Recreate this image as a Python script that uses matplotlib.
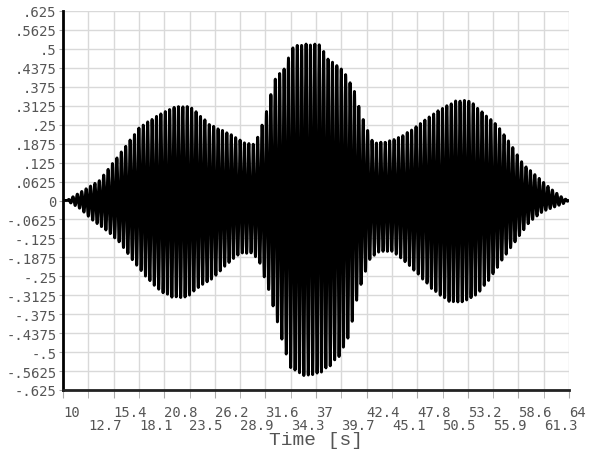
import numpy as np
import matplotlib
matplotlib.use('Agg')
import matplotlib.pyplot as plt

# Envelope of the oscillation (time [s], amplitude)
upper_t = [10.0, 10.4, 11.8, 13.9, 16.1, 18.2, 20.4, 22.0, 23.6, 25.7, 27.8,
           29.4, 30.5, 31.6, 32.6, 33.7, 34.5, 35.5, 37.4, 38.2, 39.9, 41.0,
           42.0, 43.1, 44.6, 46.0, 47.4, 48.8, 50.2, 52.0, 53.4, 54.8, 56.3,
           57.7, 59.1, 60.6, 62.0, 63.4, 64.0]
upper_v = [0.0, 0.0, 0.026, 0.066, 0.155, 0.243, 0.286, 0.31, 0.31, 0.25, 0.22,
           0.19, 0.185, 0.28, 0.40, 0.44, 0.507, 0.516, 0.516, 0.47, 0.43, 0.37,
           0.27, 0.19, 0.194, 0.21, 0.237, 0.27, 0.30, 0.33, 0.33, 0.29, 0.25,
           0.19, 0.12, 0.079, 0.04, 0.007, 0.0]

lower_t = [10.0, 10.4, 11.8, 13.2, 14.7, 16.1, 17.5, 19.0, 20.4, 21.7, 23.2,
           24.6, 26.0, 27.5, 28.9, 30.3, 31.0, 32.1, 33.2, 34.2, 35.8, 37.4,
           38.5, 39.6, 40.6, 41.4, 42.0, 42.8, 43.8, 45.2, 46.7, 48.1, 49.5,
           51.3, 52.7, 54.2, 55.6, 57.0, 58.5, 59.8, 61.2, 63.4, 64.0]
lower_v = [0.0, 0.0, -0.026, -0.066, -0.10, -0.14, -0.20, -0.257, -0.30, -0.32,
           -0.32, -0.283, -0.257, -0.21, -0.174, -0.174, -0.207, -0.31, -0.44,
           -0.55, -0.58, -0.57, -0.546, -0.51, -0.44, -0.32, -0.257, -0.19,
           -0.168, -0.168, -0.207, -0.25, -0.296, -0.335, -0.335, -0.31, -0.257,
           -0.19, -0.125, -0.07, -0.036, -0.01, 0.0]

carrier_hz = 2.13   # about 115 cycles over the record
sample_dt = 0.02

t = np.arange(10.0, 64.0 + sample_dt / 2, sample_dt)
up = np.interp(t, upper_t, upper_v)
lo = np.interp(t, lower_t, lower_v)
c = np.sin(2 * np.pi * carrier_hz * (t - 10.0))
y = np.where(c > 0, c * up, -c * lo)

fig = plt.figure(figsize=(5.9, 4.52), dpi=100)
ax = fig.add_axes([63 / 590, 1 - 391 / 452, 506 / 590, 379 / 452])

ax.plot(t, y, color='black', lw=2.1)

# x ticks every 2.7 s, labels alternate between two rows
xticks = np.round(np.arange(10, 64.01, 2.7), 1)
ax.set_xlim(10, 64)
ax.set_ylim(-0.625, 0.625)
ax.set_xticks(xticks[::2])
ax.set_xticks(xticks[1::2], minor=True)
ax.set_xticklabels([f"{v:g}" for v in xticks[::2]], family='DejaVu Sans Mono',
                   fontsize=10, color='#555555', ha='left')
ax.set_xticklabels([f"{v:g}" for v in xticks[1::2]], minor=True,
                   family='DejaVu Sans Mono', fontsize=10, color='#555555',
                   ha='left')

yticks = np.arange(-0.625, 0.6251, 0.0625)
ylabels = []
for v in yticks:
    s = f"{round(v, 4):g}"
    s = s.replace("0.", ".") if s not in ("0", "-0") else "0"
    ylabels.append(s)
ax.set_yticks(yticks)
ax.set_yticklabels(ylabels, family='DejaVu Sans Mono', fontsize=10,
                   color='#555555')

ax.tick_params(axis='x', which='major', direction='out', length=5.5,
               color='#aaaaaa', pad=5)
ax.tick_params(axis='x', which='minor', direction='out', length=5.5,
               color='#aaaaaa', pad=14.5)
ax.tick_params(axis='y', direction='out', length=3, color='#aaaaaa', pad=1.5)

ax.grid(True, which='both', axis='x', color='#d9d9d9', lw=1)
ax.grid(True, axis='y', color='#d9d9d9', lw=1)
ax.set_axisbelow(True)
for side in ('top', 'right'):
    ax.spines[side].set_visible(False)
ax.spines['left'].set_linewidth(2)
ax.spines['bottom'].set_linewidth(2)
ax.spines['bottom'].set_color('#222222')

ax.set_xlabel('Time [s]', family='Liberation Mono', fontsize=14,
              color='#555555')
ax.xaxis.set_label_coords(0.5, -0.108)

fig.savefig('out.png', dpi=100)
